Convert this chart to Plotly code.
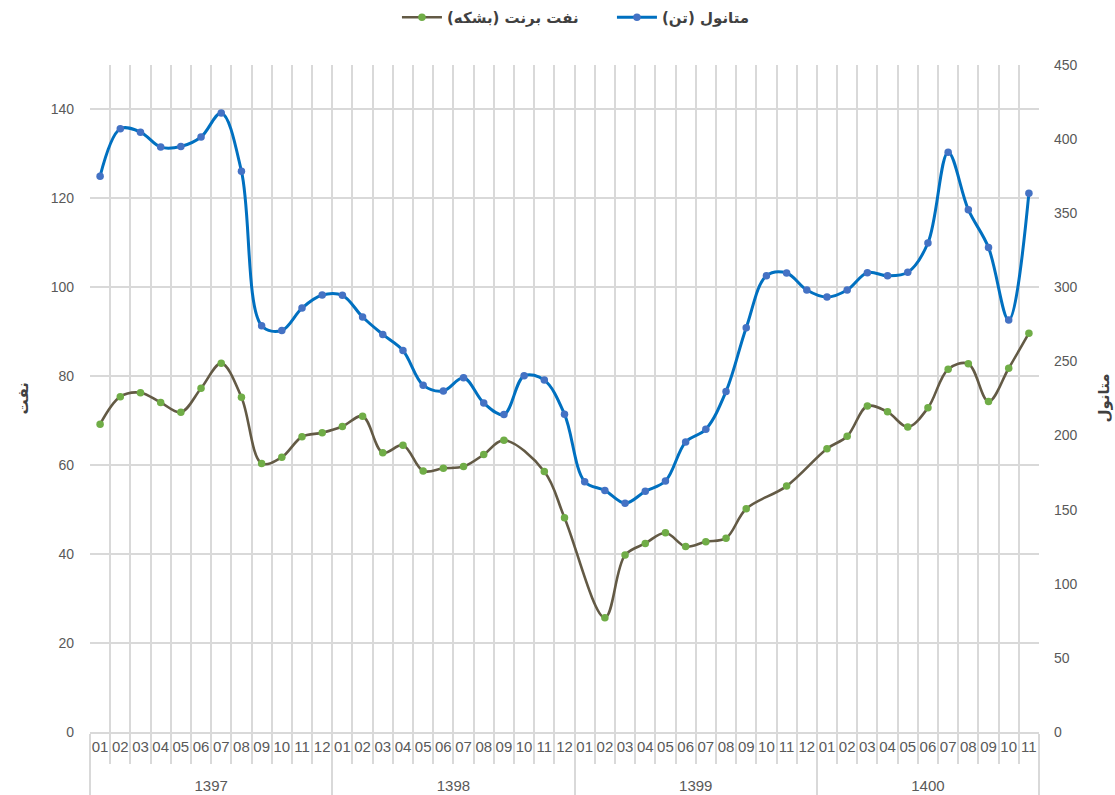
import plotly.graph_objects as go

# ---- data ----
year_labels = ["1397", "1398", "1399", "1400"]
months_per_year = [12, 12, 12, 11]
month_labels = ["01", "02", "03", "04", "05", "06", "07", "08", "09", "10", "11", "12"]

brent = [
    69.2, 75.4, 76.3, 74.1, 71.9, 77.3, 82.9, 75.3, 60.4, 61.8, 66.4, 67.3,
    68.7, 71.0, 62.8, 64.5, 58.7, 59.3, 59.7, 62.4, 65.6, None, 58.6, 48.2,
    None, 25.7, 39.8, 42.4, 44.8, 41.7, 42.8, 43.6, 50.2, None, 55.3, None,
    63.7, 66.5, 73.3, 72.0, 68.6, 72.9, 81.6, 82.8, 74.3, 81.8, 89.7,
]
methanol = [
    375, 407, 404.7, 394.6, 395, 401.4, 417.6, 378.4, 274.1, 270.9, 286, 294.8,
    294.6, 280, 268.2, 257.4, 234, 230.1, 239, 222, 214.2, 240.3, 237.4, 214.4,
    168.9, 163, 154.3, 162.4, 169.3, 195.7, 204.3, 229.7, 272.7, 307.8, 309.7, 298.2,
    293.4, 298.2, 309.9, 307.8, 310.1, 329.9, 391.2, 352.4, 326.8, 277.9, 363.5,
]

brent_name = "نفت برنت (بشکه)"
methanol_name = "متانول (تن)"
left_title = "نفت"
right_title = "متانول"

left_ticks = [0, 20, 40, 60, 80, 100, 120, 140]
right_ticks = [0, 50, 100, 150, 200, 250, 300, 350, 400, 450]

# ---- build category axis ----
x_years, x_months = [], []
for y, n in zip(year_labels, months_per_year):
    x_years += [y] * n
    # trailing empty line pushes the year row down like the reference
    x_months += [m + "<br> " for m in month_labels[:n]]
n_cat = len(x_months)

fa_font = "DejaVu Sans"
num_font = "Liberation Sans, Arial, sans-serif"

fig = go.Figure()
fig.add_trace(go.Scatter(
    x=[x_years, x_months], y=brent, name=brent_name, mode="lines+markers",
    line=dict(color="#635A45", width=2.6, shape="spline", smoothing=1.0),
    marker=dict(color="#70AD47", size=7.5),
    connectgaps=True, yaxis="y",
))
fig.add_trace(go.Scatter(
    x=[x_years, x_months], y=methanol, name=methanol_name, mode="lines+markers",
    line=dict(color="#0070C0", width=3, shape="spline", smoothing=1.0),
    marker=dict(color="#4472C4", size=7.5),
    yaxis="y2",
))

W, H = 1115, 795
fig.update_layout(
    width=W, height=H,
    margin=dict(l=90, r=76, t=65, b=63, autoexpand=False),
    plot_bgcolor="white", paper_bgcolor="white",
    showlegend=True,
    legend=dict(
        orientation="h", x=0.55, xanchor="center", y=1 - 17.5 / H, yanchor="middle",
        yref="container",
        font=dict(family=fa_font, size=15, color="#404040", weight="bold"),
        itemwidth=40, entrywidth=160,
    ),
    xaxis=dict(
        type="multicategory", range=[-0.5, n_cat - 0.5], autorange=False,
        showgrid=True, gridcolor="#D9D9D9", gridwidth=2,
        ticks="outside", ticklen=30, tickcolor="#D9D9D9", tickwidth=2,
        tickangle=0,
        showdividers=True, dividercolor="#D9D9D9", dividerwidth=2,
        showline=True, linecolor="#D9D9D9", linewidth=2,
        tickfont=dict(family=num_font, size=15, color="#595959"),
        automargin=False,
    ),
    yaxis=dict(
        range=[0, 150], tickvals=left_ticks,
        showgrid=True, gridcolor="#D9D9D9", gridwidth=2,
        zeroline=False, showline=False,
        tickfont=dict(family=num_font, size=14, color="#595959"),
        ticklabelstandoff=15,
        automargin=False,
    ),
    yaxis2=dict(
        range=[0, 450], tickvals=right_ticks, overlaying="y", side="right",
        showgrid=False, zeroline=False, showline=False,
        tickfont=dict(family=num_font, size=14, color="#595959"),
        ticklabelstandoff=14,
        automargin=False,
    ),
    annotations=[
        dict(text="<b>%s</b>" % left_title, xref="paper", yref="paper",
             x=0, y=0.5, xshift=-68, xanchor="center", yanchor="middle",
             textangle=-90, showarrow=False,
             font=dict(family=fa_font, size=15, color="#404040")),
        dict(text="<b>%s</b>" % right_title, xref="paper", yref="paper",
             x=1, y=0.5, xshift=64, xanchor="center", yanchor="middle",
             textangle=-90, showarrow=False,
             font=dict(family=fa_font, size=15, color="#404040")),
    ],
)

fig.write_html(
    "out.html",
    config={"displayModeBar": False},
    post_script="document.body.style.margin='0';document.body.style.overflow='hidden';",
)
